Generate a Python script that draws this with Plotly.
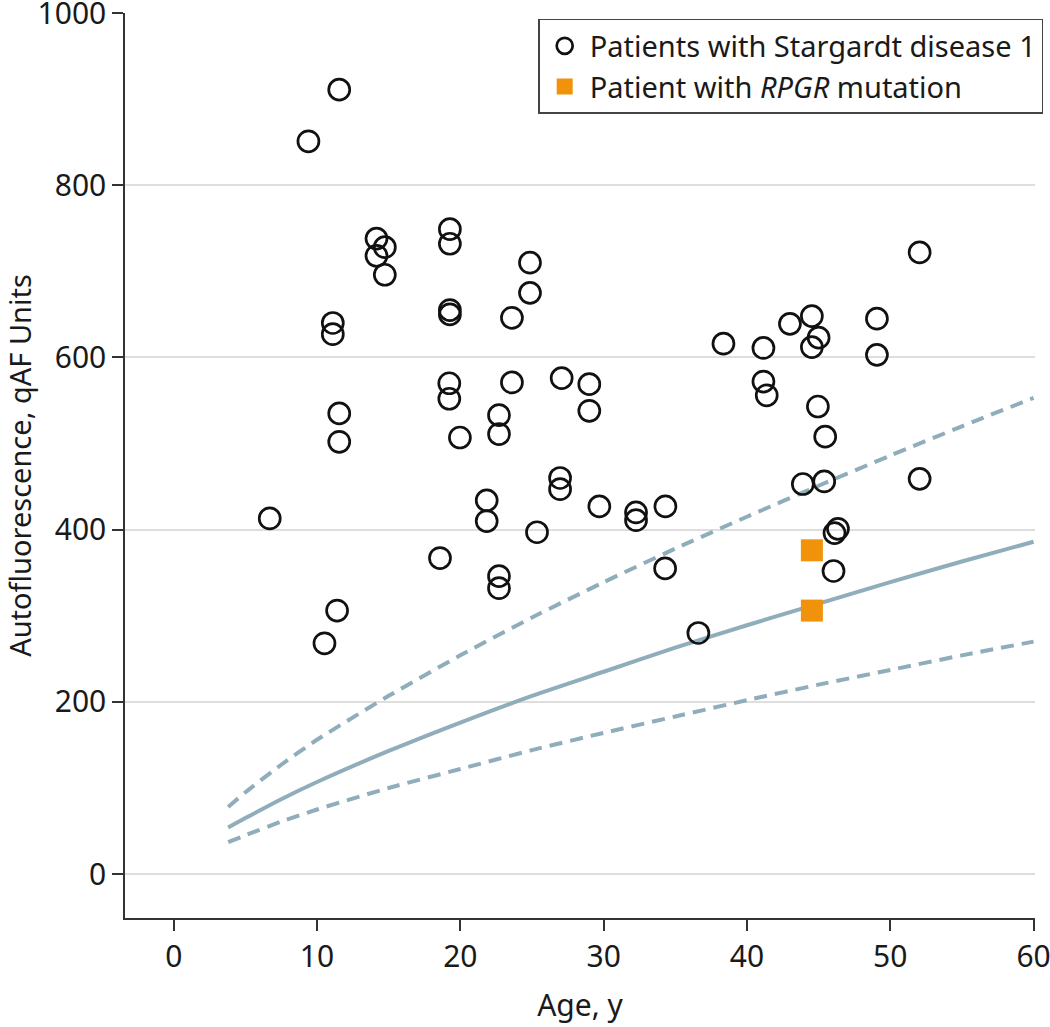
import plotly.graph_objects as go

# Patients with Stargardt disease 1 (age in years, qAF units)
stgd_age = [9.4, 11.55, 14.15, 14.73, 14.15, 14.73, 19.27, 19.27, 19.27, 19.27,
            11.1, 11.1, 11.55, 11.55, 6.7, 11.4, 10.52, 19.23, 19.23, 19.97,
            18.58, 21.84, 21.84, 22.7, 22.7, 22.7, 22.7, 23.6, 23.6, 24.86,
            24.86, 25.35, 27.07, 26.96, 26.96, 29.0, 29.0, 29.7, 32.26, 32.26,
            34.31, 34.29, 36.61, 38.36, 41.15, 41.15, 41.38, 43.0, 44.53, 45.0,
            44.53, 44.95, 45.46, 43.9, 45.39, 46.35, 46.11, 46.04, 49.07, 49.07,
            52.05, 52.05]
stgd_qaf = [851, 911, 738, 728, 718, 696, 749, 732, 655, 650,
            640, 627, 535, 502, 413, 306, 268, 570, 552, 507,
            367, 434, 410, 533, 511, 346, 332, 646, 571, 710,
            675, 397, 576, 460, 447, 569, 538, 427, 420, 411,
            427, 355, 280, 616, 611, 572, 556, 639, 648, 623,
            612, 543, 508, 453, 456, 401, 396, 352, 645, 603,
            722, 459]

# Patient with RPGR mutation
rpgr_age = [44.53, 44.53]
rpgr_qaf = [376, 306]

# Normative curves (mean and 95% limits)
norm_age = [3.8, 5, 7.5, 10, 15, 20, 25, 30, 35, 40, 45, 50, 55, 60]
norm_mean = [54, 65, 87, 107, 143, 176, 207, 235, 263, 289, 314, 339, 363, 386]
norm_upper = [78, 95, 127, 156, 207, 254, 298, 339, 378, 415, 451, 486, 520, 553]
norm_lower = [37, 45, 61, 75, 100, 122, 144, 164, 183, 202, 220, 237, 254, 270]

x_ticks = [0, 10, 20, 30, 40, 50, 60]
y_ticks = [0, 200, 400, 600, 800, 1000]

LINE = "#8fadbb"
FONT = "Noto Sans"

fig = go.Figure()

for vals, dash in [(norm_upper, "13px,8px"), (norm_lower, "13px,8px"), (norm_mean, "solid")]:
    fig.add_trace(go.Scatter(
        x=norm_age, y=vals, mode="lines", showlegend=False, hoverinfo="skip",
        line=dict(color=LINE, width=4, dash=dash, shape="spline", smoothing=0.6),
    ))

fig.add_trace(go.Scatter(
    x=stgd_age, y=stgd_qaf, mode="markers", name="Patients with Stargardt disease 1",
    marker=dict(symbol="circle-open", size=21, color="#111111", line=dict(width=2.7, color="#111111")),
))
fig.add_trace(go.Scatter(
    x=rpgr_age, y=rpgr_qaf, mode="markers", name="Patient with <i>RPGR</i> mutation",
    marker=dict(symbol="square", size=22, color="#f0920a", line=dict(width=0)),
))

fig.update_layout(
    width=1050, height=1027,
    margin=dict(l=125, r=15, t=13, b=109, autoexpand=False),
    plot_bgcolor="white", paper_bgcolor="white",
    font=dict(family=FONT, size=29, color="#1a1a1a"),
    showlegend=True,
    legend=dict(
        x=1.009, y=0.9934, xanchor="right", yanchor="top",
        bgcolor="white", bordercolor="#444444", borderwidth=1.5,
        font=dict(family=FONT, size=29, color="#1a1a1a"),
        itemsizing="trace", tracegroupgap=0, itemwidth=40,
    ),
    xaxis=dict(
        range=[-3.4, 60.1], tickvals=x_ticks, ticks="outside", ticklen=11,
        tickwidth=1.5, tickcolor="#333333", showline=True, linecolor="#333333",
        linewidth=1.5, showgrid=False, zeroline=False, ticklabeloverflow="allow",
        automargin=False, tickfont=dict(size=30),
        title=dict(text="Age, y", font=dict(size=30), standoff=20),
    ),
    yaxis=dict(
        range=[-51, 1000], tickvals=y_ticks, ticks="outside", ticklen=11,
        tickwidth=1.5, tickcolor="#333333", showline=True, linecolor="#333333",
        linewidth=1.5, showgrid=True, gridcolor="#dedede", gridwidth=2,
        zeroline=False, tickfont=dict(size=30), ticklabeloverflow="allow",
        automargin=False,
        title=dict(text="Autofluorescence, qAF Units", font=dict(size=29), standoff=2),
    ),
)

fig.write_html("out.html", config={"displayModeBar": False},
               post_script="document.body.style.margin='0';")
